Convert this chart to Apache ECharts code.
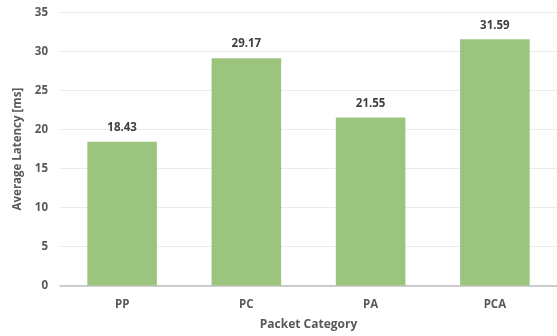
<!DOCTYPE html>
<html>
<head>
<meta charset="utf-8">
<script src="https://cdn.jsdelivr.net/npm/echarts@6/dist/echarts.min.js"></script>
<style>
  html, body { margin: 0; padding: 0; background: #fff; }
  #chart { width: 557px; height: 336px; }
</style>
</head>
<body>
<div id="chart"></div>
<script>
// Average latency per packet category
const categories = ['PP', 'PC', 'PA', 'PCA'];
const latency = [18.43, 29.17, 21.55, 31.59];
const yTicks = [0, 5, 10, 15, 20, 25, 30, 35];

const font = '"Open Sans", "Liberation Sans", sans-serif';
const chart = echarts.init(document.getElementById('chart'));

chart.setOption({
  animation: false,
  backgroundColor: '#ffffff',
  grid: { left: 60, right: -2, top: 12.7, bottom: 50.5, containLabel: false },
  xAxis: {
    type: 'category',
    data: categories,
    name: 'Packet Category',
    nameLocation: 'middle',
    nameGap: 33,
    nameTextStyle: { fontFamily: font, fontSize: 12, fontWeight: 'bold', color: '#595959' },
    axisLine: { lineStyle: { color: '#bfbfbf', width: 1.5 } },
    axisTick: { show: false },
    axisLabel: { fontFamily: font, fontSize: 11.5, fontWeight: 'bold', color: '#595959', margin: 13 }
  },
  yAxis: {
    type: 'value',
    min: yTicks[0],
    max: yTicks[yTicks.length - 1],
    interval: 5,
    name: 'Average Latency [ms]',
    nameLocation: 'middle',
    nameGap: 30,
    nameTextStyle: { fontFamily: font, fontSize: 11.5, fontWeight: 'bold', color: '#595959' },
    axisLine: { show: false },
    axisTick: { show: false },
    axisLabel: { fontFamily: font, fontSize: 11.5, fontWeight: 'bold', color: '#595959', margin: 12 },
    splitLine: { lineStyle: { color: '#ebebeb', width: 1 } }
  },
  series: [{
    type: 'bar',
    data: latency,
    barWidth: '56%',
    itemStyle: { color: '#9bc57e' },
    label: {
      show: true,
      position: 'top',
      distance: 8,
      fontFamily: font,
      fontSize: 11.5,
      fontWeight: 'bold',
      color: '#404040',
      formatter: p => p.value.toFixed(2)
    }
  }]
});
</script>
</body>
</html>
